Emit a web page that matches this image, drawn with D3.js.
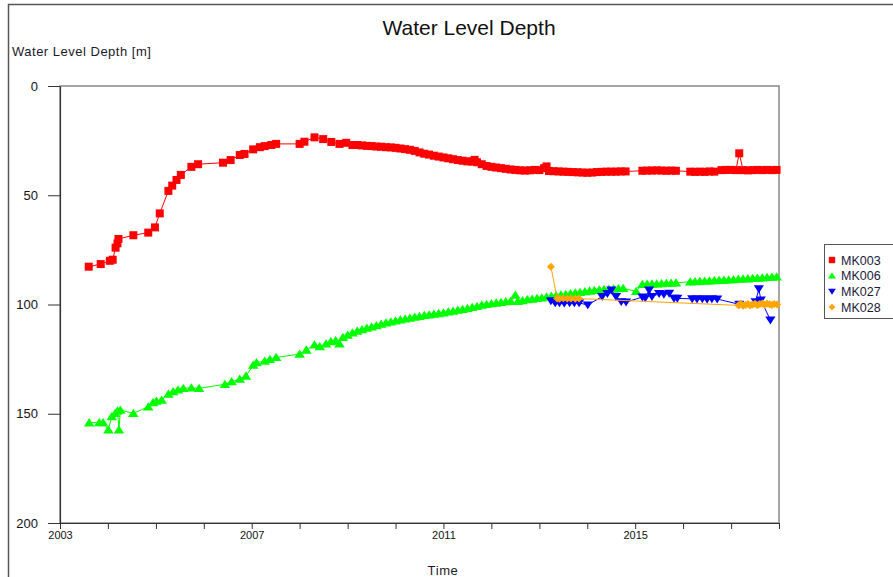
<!DOCTYPE html>
<html>
<head>
<meta charset="utf-8">
<script src="https://cdn.jsdelivr.net/npm/d3@7"></script>
<style>
  html, body { margin: 0; padding: 0; background: #fff; }
  svg { display: block; font-family: "Liberation Sans", Arial, sans-serif; }
</style>
</head>
<body>
<svg id="chart" width="893" height="577"></svg>
<script>
// Well names, colours and marker shapes
const seriesNames = ["MK003", "MK006", "MK027", "MK028"];
const seriesColors = ["#ff0000", "#00ff00", "#0000ff", "#ffa500"];
const seriesSymbols = ["square", "triangleUp", "triangleDown", "diamond"];

// Axis ticks
const yTicks = [0, 50, 100, 150, 200];
const xLabelYears = [2003, 2007, 2011, 2015];

// Measurements: [decimal year, depth in m]
const mk003 = [
  [2003.60, 82.7], [2003.85, 81.5], [2004.04, 80.0], [2004.10, 79.5], [2004.16, 74.0],
  [2004.20, 72.0], [2004.22, 70.0], [2004.53, 68.3], [2004.84, 67.1], [2004.98, 64.7],
  [2005.08, 58.3], [2005.26, 48.0], [2005.34, 45.6], [2005.43, 43.0], [2005.52, 40.7],
  [2005.74, 37.0], [2005.88, 35.8], [2006.40, 35.1], [2006.56, 33.9], [2006.75, 31.6],
  [2006.85, 31.1], [2007.03, 29.0], [2007.17, 28.0], [2007.27, 27.5], [2007.41, 27.0],
  [2007.51, 26.5], [2008.00, 26.5], [2008.10, 25.5], [2008.31, 23.5], [2008.49, 24.3],
  [2008.66, 25.6], [2008.83, 26.5], [2008.97, 26.0], [2009.10, 27.0], [2009.20, 27.0],
  [2009.30, 27.2], [2009.40, 27.4], [2009.50, 27.5], [2009.60, 27.7], [2009.70, 27.8],
  [2009.80, 28.0], [2009.90, 28.1], [2010.00, 28.3], [2010.10, 28.6], [2010.20, 28.9],
  [2010.30, 29.2], [2010.40, 29.7], [2010.50, 30.4], [2010.60, 31.0], [2010.70, 31.4],
  [2010.80, 31.9], [2010.90, 32.3], [2011.00, 32.7], [2011.10, 33.1], [2011.20, 33.5],
  [2011.30, 33.9], [2011.40, 34.2], [2011.50, 34.5], [2011.60, 34.6], [2011.65, 33.8],
  [2011.70, 34.9], [2011.80, 35.8], [2011.90, 36.6], [2012.00, 37.0], [2012.10, 37.3],
  [2012.20, 37.6], [2012.30, 37.9], [2012.40, 38.2], [2012.50, 38.4], [2012.60, 38.6],
  [2012.70, 38.7], [2012.80, 38.6], [2012.90, 38.4], [2013.00, 38.5], [2013.10, 37.6],
  [2013.15, 36.8], [2013.20, 38.9], [2013.30, 39.0], [2013.40, 39.1], [2013.50, 39.2],
  [2013.60, 39.3], [2013.70, 39.4], [2013.80, 39.5], [2013.90, 39.6], [2014.00, 39.7],
  [2014.10, 39.6], [2014.20, 39.4], [2014.30, 39.3], [2014.40, 39.2], [2014.50, 39.2],
  [2014.60, 39.2], [2014.70, 39.1], [2014.80, 39.1], [2015.15, 38.8], [2015.25, 38.7],
  [2015.35, 38.7], [2015.45, 38.6], [2015.55, 38.7], [2015.65, 38.8], [2015.75, 38.7],
  [2015.85, 38.8], [2016.15, 39.2], [2016.25, 39.3], [2016.35, 39.2], [2016.45, 39.3],
  [2016.55, 39.1], [2016.65, 39.2], [2016.80, 38.5], [2016.90, 38.4], [2017.00, 38.4],
  [2017.10, 38.5], [2017.17, 30.8], [2017.25, 38.5], [2017.35, 38.6], [2017.45, 38.5],
  [2017.55, 38.4], [2017.65, 38.5], [2017.75, 38.4], [2017.85, 38.5], [2017.95, 38.4]
];

const mk006 = [
  [2003.61, 154.1], [2003.82, 154.0], [2003.90, 154.0], [2004.01, 157.4], [2004.08, 151.3],
  [2004.15, 149.8], [2004.20, 148.7], [2004.23, 157.4], [2004.26, 148.3], [2004.53, 149.8],
  [2004.84, 146.8], [2004.94, 144.9], [2005.01, 144.2], [2005.12, 143.7], [2005.26, 141.0],
  [2005.36, 139.9], [2005.46, 139.1], [2005.57, 138.4], [2005.74, 138.1], [2005.90, 138.4],
  [2006.44, 136.5], [2006.58, 135.3], [2006.75, 134.1], [2006.88, 132.7], [2007.03, 127.7],
  [2007.10, 126.6], [2007.27, 125.9], [2007.38, 125.1], [2007.51, 124.2], [2008.00, 122.7],
  [2008.14, 120.8], [2008.31, 118.5], [2008.42, 119.3], [2008.55, 118.0], [2008.65, 117.0],
  [2008.75, 116.5], [2008.83, 118.0], [2008.90, 115.0], [2009.00, 114.0], [2009.10, 113.0],
  [2009.20, 112.2], [2009.30, 111.5], [2009.40, 110.8], [2009.50, 110.2], [2009.60, 109.6],
  [2009.70, 109.0], [2009.80, 108.4], [2009.90, 107.9], [2010.00, 107.5], [2010.10, 107.0],
  [2010.20, 106.6], [2010.30, 106.2], [2010.40, 105.8], [2010.50, 105.4], [2010.60, 105.0],
  [2010.70, 104.7], [2010.80, 104.4], [2010.90, 104.1], [2011.00, 103.8], [2011.10, 103.4],
  [2011.20, 103.0], [2011.30, 102.6], [2011.40, 102.2], [2011.50, 101.8], [2011.60, 101.3],
  [2011.70, 100.8], [2011.80, 100.3], [2011.90, 99.9], [2012.00, 99.6], [2012.10, 99.3],
  [2012.20, 99.0], [2012.30, 98.7], [2012.40, 98.5], [2012.50, 95.7], [2012.55, 98.6],
  [2012.65, 98.2], [2012.75, 97.8], [2012.85, 97.5], [2012.95, 97.2], [2013.05, 96.9],
  [2013.15, 96.5], [2013.25, 96.2], [2013.35, 95.9], [2013.45, 95.6], [2013.55, 95.3],
  [2013.65, 95.0], [2013.75, 94.7], [2013.85, 94.4], [2013.95, 94.1], [2014.05, 93.8],
  [2014.15, 93.5], [2014.25, 93.3], [2014.35, 93.1], [2014.45, 92.9], [2014.55, 92.8],
  [2014.65, 92.7], [2014.75, 92.6], [2015.02, 94.0], [2015.15, 90.8], [2015.25, 90.7],
  [2015.35, 90.6], [2015.45, 90.5], [2015.55, 90.4], [2015.65, 90.3], [2015.75, 90.2],
  [2015.85, 90.1], [2016.15, 89.6], [2016.25, 89.5], [2016.35, 89.4], [2016.45, 89.3],
  [2016.55, 89.2], [2016.65, 89.0], [2016.75, 88.9], [2016.85, 88.8], [2016.95, 88.7],
  [2017.05, 88.6], [2017.15, 88.4], [2017.25, 88.3], [2017.35, 88.2], [2017.45, 88.0],
  [2017.55, 87.9], [2017.65, 87.8], [2017.75, 87.6], [2017.85, 87.5], [2017.95, 87.3]
];

const mk027 = [
  [2013.24, 98.3], [2013.33, 99.3], [2013.42, 99.3], [2013.52, 99.4], [2013.63, 99.2],
  [2013.73, 99.3], [2013.83, 99.3], [2014.01, 100.2], [2014.31, 96.4], [2014.42, 95.0],
  [2014.50, 93.4], [2014.60, 96.4], [2014.71, 98.7], [2014.81, 98.9], [2015.15, 96.6],
  [2015.21, 97.0], [2015.29, 93.4], [2015.35, 96.4], [2015.50, 95.0], [2015.60, 95.3],
  [2015.71, 94.9], [2015.81, 97.2], [2015.88, 97.2], [2016.19, 97.4], [2016.29, 97.5],
  [2016.40, 97.4], [2016.50, 97.6], [2016.60, 97.4], [2016.71, 97.5], [2017.17, 99.9],
  [2017.51, 98.7], [2017.58, 92.8], [2017.62, 97.9], [2017.82, 107.1]
];

const mk028 = [
  [2013.24, 82.7], [2013.37, 97.2], [2013.42, 97.4], [2013.50, 97.1], [2013.58, 97.3],
  [2013.66, 97.2], [2013.75, 97.4], [2013.83, 97.3], [2017.15, 100.4], [2017.20, 99.6],
  [2017.25, 100.6], [2017.30, 100.2], [2017.35, 99.8], [2017.40, 100.5], [2017.45, 100.0],
  [2017.50, 99.6], [2017.55, 100.3], [2017.60, 99.8], [2017.65, 99.5], [2017.70, 100.1],
  [2017.75, 99.7], [2017.80, 99.9], [2017.85, 100.2], [2017.90, 99.8], [2017.96, 100.0]
];

const seriesData = [mk003, mk006, mk027, mk028];

// Convert a decimal year into a Date
function yearToDate(v) {
  const yr = Math.floor(v);
  const a = new Date(yr, 0, 1), b = new Date(yr + 1, 0, 1);
  return new Date(+a + (v - yr) * (b - a));
}

const svg = d3.select("#chart");
const plotLeft = 60, plotRight = 779, plotTop = 86, plotBottom = 523;

const x = d3.scaleTime()
  .domain([new Date(2003, 0, 1), new Date(2018, 0, 1)])
  .range([plotLeft, plotRight]);
const y = d3.scaleLinear().domain([0, 200]).range([plotTop, plotBottom]);

// Outer frame
svg.append("rect")
  .attr("x", 8.5).attr("y", 4.5).attr("width", 1000).attr("height", 1000)
  .attr("fill", "none").attr("stroke", "#555").attr("stroke-width", 1.5);

// Title and axis titles
svg.append("text").attr("x", 469).attr("y", 35).attr("text-anchor", "middle")
  .attr("font-size", 21).attr("fill", "#111").text("Water Level Depth");
svg.append("text").attr("x", 12).attr("y", 56)
  .attr("font-size", 13).attr("letter-spacing", 0.5).attr("fill", "#1a1a2a")
  .text("Water Level Depth [m]");
svg.append("text").attr("x", 443).attr("y", 575).attr("text-anchor", "middle")
  .attr("font-size", 13).attr("letter-spacing", 0.6).attr("fill", "#1a1a2a").text("Time");

// Plot frame (top and right edges)
svg.append("rect")
  .attr("x", plotLeft).attr("y", plotTop)
  .attr("width", plotRight - plotLeft).attr("height", plotBottom - plotTop)
  .attr("fill", "none").attr("stroke", "#888").attr("stroke-width", 1.5);

// Y axis
const yAxis = svg.append("g")
  .attr("transform", `translate(${plotLeft},0)`)
  .call(d3.axisLeft(y).tickValues(yTicks).tickSize(12).tickSizeOuter(0).tickPadding(10));
yAxis.select(".domain").attr("stroke", "#333").attr("stroke-width", 1.2);
yAxis.selectAll(".tick line").attr("stroke", "#333");
yAxis.selectAll(".tick text").attr("font-size", 13).attr("fill", "#111")
  .attr("font-family", "'Liberation Sans', Arial, sans-serif");

// X axis: yearly ticks, labels every four years
const xAxis = svg.append("g")
  .attr("transform", `translate(0,${plotBottom})`)
  .call(d3.axisBottom(x).ticks(d3.timeYear.every(1))
    .tickFormat(d => xLabelYears.includes(d.getFullYear()) ? d.getFullYear() : "")
    .tickSize(6).tickSizeOuter(0).tickPadding(2));
xAxis.select(".domain").attr("stroke", "#333").attr("stroke-width", 1.2);
xAxis.selectAll(".tick line").attr("stroke", "#333");
xAxis.selectAll(".tick text").attr("font-size", 11).attr("fill", "#111")
  .attr("font-family", "'Liberation Sans Narrow', 'Liberation Sans', Arial, sans-serif");

// Marker shapes
const symbolPaths = {
  square: s => `M${-s},${-s}H${s}V${s}H${-s}Z`,
  triangleUp: s => `M0,${-s}L${s * 1.15},${s * 0.8}H${-s * 1.15}Z`,
  triangleDown: s => `M0,${s}L${s * 1.15},${-s * 0.8}H${-s * 1.15}Z`,
  diamond: s => `M0,${-s}L${s},0L0,${s}L${-s},0Z`
};
const symbolSize = { square: 4, triangleUp: 4.6, triangleDown: 4.4, diamond: 4 };

const line = d3.line().x(d => x(yearToDate(d[0]))).y(d => y(d[1]));

seriesData.forEach((data, i) => {
  const g = svg.append("g");
  g.append("path").datum(data).attr("d", line)
    .attr("fill", "none").attr("stroke", seriesColors[i]).attr("stroke-width", 1);
  const sym = seriesSymbols[i];
  g.selectAll("path.pt").data(data).join("path").attr("class", "pt")
    .attr("transform", d => `translate(${x(yearToDate(d[0]))},${y(d[1])})`)
    .attr("d", symbolPaths[sym](symbolSize[sym]))
    .attr("fill", seriesColors[i]);
});

// Legend
const legend = svg.append("g");
legend.append("rect").attr("x", 824.5).attr("y", 244.5).attr("width", 120).attr("height", 74)
  .attr("fill", "#fff").attr("stroke", "#555").attr("stroke-width", 1);
seriesNames.forEach((name, i) => {
  const cy = 260 + i * 15.7;
  const sym = seriesSymbols[i];
  legend.append("path")
    .attr("transform", `translate(832,${cy})`)
    .attr("d", symbolPaths[sym](sym === "square" ? 3.2 : 3.4))
    .attr("fill", seriesColors[i]);
  legend.append("text").attr("x", 841).attr("y", cy + 4.5)
    .attr("font-size", 12.5).attr("fill", "#1a1a3a").text(name);
});
</script>
</body>
</html>
